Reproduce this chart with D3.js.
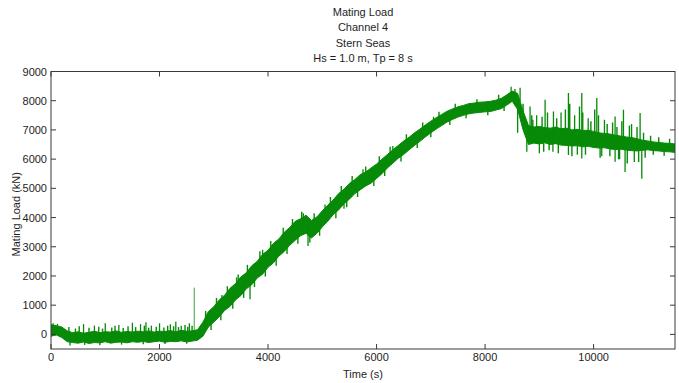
<!DOCTYPE html>
<html>
<head>
<meta charset="utf-8">
<script src="https://cdn.jsdelivr.net/npm/d3@7"></script>
<style>
  html, body { margin: 0; padding: 0; background: #ffffff; }
  svg { display: block; font-family: "Liberation Sans", Arial, sans-serif; }
</style>
</head>
<body>
<svg id="chart" width="679" height="383"></svg>
<script>
// Sample times (s), every 100 s
const timeSec = d3.range(0, 11501, 100);

// Lower and upper envelope of the recorded load signal (kN) at each sample time
const loadLow = [
  -60, -20, -110, -250, -280, -300, -260, -310, -280, -290,
  -250, -300, -270, -260, -290, -250, -270, -240, -280, -250,
  -230, -270, -240, -250, -220, -260, -230, -200, -60, 250,
  420, 600, 820, 960, 1180, 1330, 1560, 1700, 1930, 2060,
  2300, 2450, 2680, 2840, 3050, 3220, 3380, 3460, 3300, 3460,
  3680, 3870, 4100, 4260, 4470, 4630, 4820, 4950, 5080, 5180,
  5340, 5500, 5700, 5860, 6030, 6160, 6320, 6470, 6610, 6760,
  6900, 7030, 7150, 7270, 7360, 7440, 7500, 7550, 7580, 7600,
  7620, 7630, 7680, 7730, 7850, 7980, 7700, 7000, 6500, 6550,
  6520, 6560, 6500, 6530, 6480, 6470, 6450, 6460, 6420, 6440,
  6400, 6380, 6390, 6350, 6330, 6340, 6310, 6290, 6280, 6300,
  6320, 6290, 6280, 6260, 6250, 6230
];
const loadHigh = [
  330, 300, 250, 120, 60, 90, 40, 70, 110, 60,
  90, 80, 120, 70, 100, 80, 110, 90, 120, 80,
  110, 100, 130, 90, 140, 110, 120, 160, 420, 780,
  950, 1180, 1340, 1580, 1740, 1970, 2110, 2350, 2500, 2740,
  2880, 3120, 3270, 3500, 3660, 3870, 3960, 4080, 3900, 4020,
  4230, 4420, 4600, 4820, 4970, 5170, 5300, 5470, 5560, 5700,
  5830, 6000, 6160, 6320, 6470, 6620, 6750, 6900, 7030, 7170,
  7300, 7420, 7530, 7640, 7720, 7790, 7840, 7900, 7920, 7950,
  7960, 7980, 8020, 8080, 8200, 8330, 8250, 7650, 7150, 7100,
  7120, 7080, 7060, 7100, 7040, 7060, 7000, 7020, 6980, 6990,
  6950, 6900, 6880, 6860, 6820, 6790, 6760, 6740, 6700, 6650,
  6620, 6590, 6570, 6550, 6540, 6520
];

// Large transient peaks: time (s) and tip load (kN)
const spikeTime = [
  40, 120, 600, 800, 1000, 1250, 1500, 1650, 1750, 1850, 2000, 2200, 2300, 2400, 2550, 2640,
  3150, 3420, 3668, 3900, 4250, 4737, 4650, 5050, 5400, 5750, 6300, 7050, 8480, 8600,
  8645, 8769, 8829, 8950, 9000, 9106, 9250, 9260, 9400, 9536, 9536, 9650, 9700, 9782, 9782,
  9900, 10059, 10150, 10200, 10396, 10396, 10480, 10550, 10580, 10700, 10750, 10857, 10888
];
const spikeLoad = [
  380, 360, 350, 300, 380, 320, 400, 350, 420, 300, 380, 350, 430, 300, 380, 1600,
  1350, 1950, 1200, 2900, 2800, 3030, 4150, 4450, 4300, 5650, 6450, 7450, 8480, 6900,
  8440, 6250, 7800, 7500, 6200, 8030, 6250, 7630, 7600, 8260, 6140, 7500, 6150, 8260, 6020,
  7400, 8090, 6100, 7350, 7460, 5910, 6000, 7690, 5560, 7200, 5900, 7580, 5330
];

// Fine peaks along the edges of the band: time (s) and tip load (kN)
const fineTime = [
  330, 350, 450, 520, 620, 700, 880, 900, 950, 1120, 1180, 1300, 1330, 1420, 1560, 1700,
  1720, 1800, 1940, 2080, 2100, 2150, 2260, 2350, 2470, 2500, 2520, 2600,
  2850, 2950, 3050, 3130, 3250, 3350, 3450, 3550, 3620, 3750, 3850, 3950, 4050, 4150,
  4280, 4350, 4450, 4550, 4620, 4770, 4850, 4950, 5150, 5250, 5350, 5450, 5550, 5650,
  5800, 5950, 6050, 6150, 6250, 6450, 6550, 6750, 6850, 7000, 7150, 7350, 7450, 7650,
  7850, 8050, 8250, 8350, 8550,
  8700, 8860, 8880, 9050, 9080, 9150, 9180, 9320, 9350, 9480, 9560, 9600, 9740, 9800,
  9850, 9950, 10020, 10090, 10120, 10250, 10300, 10350, 10430, 10460, 10520, 10620, 10660,
  10800, 10830, 10920, 10950, 11050, 11100, 11200, 11300, 11400
];
const fineLoad = [
  250, -380, 200, 280, -360, 230, 260, -370, 200, 240, 300, -350, 220, 280, 250, -340,
  300, 230, 260, 240, -330, 300, 280, 250, 320, -320, 260, 300,
  800, 150, 1250, 480, 1650, 880, 2050, 1250, 2380, 1620, 2850, 1980, 3200, 2350,
  3650, 2750, 3950, 3100, 4200, 3150, 4150, 3380, 4700, 3980, 5080, 4350, 5420, 4700,
  5750, 5080, 6100, 5420, 6420, 5920, 6850, 6380, 7250, 6750, 7620, 7170, 7900, 7400,
  8050, 7500, 8200, 7650, 8400,
  7900, 7500, 7350, 7450, 6250, 7600, 6300, 7400, 6200, 7700, 7900, 6100, 7800, 7600,
  6150, 7300, 7700, 7500, 6050, 7200, 6100, 7250, 7100, 6000, 7300, 5850, 7150,
  7100, 5900, 6900, 6050, 6800, 6150, 6750, 6120, 6700
];

// Axis ticks
const xTicks = [0, 2000, 4000, 6000, 8000, 10000];
const yTicks = [0, 1000, 2000, 3000, 4000, 5000, 6000, 7000, 8000, 9000];

const titleLines = ["Mating Load", "Channel 4", "Stern Seas", "Hs = 1.0 m, Tp = 8 s"];

const svg = d3.select("#chart");
const plot = { left: 51, right: 675, top: 71.5, bottom: 349 };
const lineGreen = "#078a07";
const axisColor = "#3a3a3a";
const textColor = "#1e1e1e";

const x = d3.scaleLinear().domain([0, 11500]).range([plot.left, plot.right]);
const y = d3.scaleLinear().domain([-500, 9000]).range([plot.bottom, plot.top]);

const rows = timeSec.map((t, i) => ({ t, lo: loadLow[i], hi: loadHigh[i] }));

// Noisy signal band
const band = d3.area()
  .x(d => x(d.t))
  .y0(d => y(d.lo))
  .y1(d => y(d.hi));

const g = svg.append("g");
svg.append("clipPath").attr("id", "plotclip")
  .append("rect")
  .attr("x", plot.left).attr("y", plot.top)
  .attr("width", plot.right - plot.left).attr("height", plot.bottom - plot.top);

const dataLayer = g.append("g").attr("clip-path", "url(#plotclip)");

dataLayer.append("path")
  .datum(rows)
  .attr("d", band)
  .attr("fill", lineGreen)
  .attr("stroke", lineGreen)
  .attr("stroke-width", 1)
  .attr("stroke-linejoin", "round");

// Peaks rise from the middle of the band at their time
const bisect = d3.bisector(d => d.t).center;
const baseAt = t => { const r = rows[bisect(rows, t)]; return y((r.lo + r.hi) / 2); };

dataLayer.selectAll("line.fine")
  .data(fineTime.map((t, i) => ({ t, v: fineLoad[i] })))
  .join("line")
  .attr("class", "fine")
  .attr("x1", d => x(d.t))
  .attr("x2", d => x(d.t))
  .attr("y1", d => baseAt(d.t))
  .attr("y2", d => y(d.v))
  .attr("stroke", lineGreen)
  .attr("stroke-width", 1.4);

dataLayer.selectAll("line.spike")
  .data(spikeTime.map((t, i) => ({ t, v: spikeLoad[i] })))
  .join("line")
  .attr("class", "spike")
  .attr("x1", d => x(d.t))
  .attr("x2", d => x(d.t))
  .attr("y1", d => baseAt(d.t))
  .attr("y2", d => y(d.v))
  .attr("stroke", lineGreen)
  .attr("stroke-width", d => (d.v > 1000 && d.t < 3000) ? 0.8 : 1.3);

// Box with inward ticks on all four sides
const tickLen = 5;
const axes = g.append("g").attr("stroke", axisColor).attr("stroke-width", 1);

axes.append("rect")
  .attr("x", plot.left).attr("y", plot.top)
  .attr("width", plot.right - plot.left).attr("height", plot.bottom - plot.top)
  .attr("fill", "none");

xTicks.forEach(v => {
  axes.append("line").attr("x1", x(v)).attr("x2", x(v))
    .attr("y1", plot.bottom).attr("y2", plot.bottom - tickLen);
  axes.append("line").attr("x1", x(v)).attr("x2", x(v))
    .attr("y1", plot.top).attr("y2", plot.top + tickLen);
});
yTicks.forEach(v => {
  axes.append("line").attr("x1", plot.left).attr("x2", plot.left + tickLen)
    .attr("y1", y(v)).attr("y2", y(v));
  axes.append("line").attr("x1", plot.right).attr("x2", plot.right - tickLen)
    .attr("y1", y(v)).attr("y2", y(v));
});

// Tick labels
g.append("g").selectAll("text")
  .data(xTicks)
  .join("text")
  .attr("x", d => x(d))
  .attr("y", plot.bottom + 12)
  .attr("text-anchor", "middle")
  .attr("font-size", 11)
  .attr("fill", textColor)
  .text(d => d);

g.append("g").selectAll("text")
  .data(yTicks)
  .join("text")
  .attr("x", plot.left - 4)
  .attr("y", d => y(d) + 4)
  .attr("text-anchor", "end")
  .attr("font-size", 11)
  .attr("fill", textColor)
  .text(d => d);

// Axis titles
g.append("text")
  .attr("x", (plot.left + plot.right) / 2)
  .attr("y", 378)
  .attr("text-anchor", "middle")
  .attr("font-size", 11)
  .attr("fill", textColor)
  .text("Time (s)");

g.append("text")
  .attr("transform", `translate(20, ${(plot.top + plot.bottom) / 2 + 4}) rotate(-90)`)
  .attr("text-anchor", "middle")
  .attr("font-size", 11)
  .attr("fill", textColor)
  .text("Mating Load (kN)");

// Chart title
g.append("g").selectAll("text")
  .data(titleLines)
  .join("text")
  .attr("x", (plot.left + plot.right) / 2)
  .attr("y", (d, i) => 16 + i * 15.3)
  .attr("text-anchor", "middle")
  .attr("font-size", 11)
  .attr("fill", textColor)
  .text(d => d);
</script>
</body>
</html>
